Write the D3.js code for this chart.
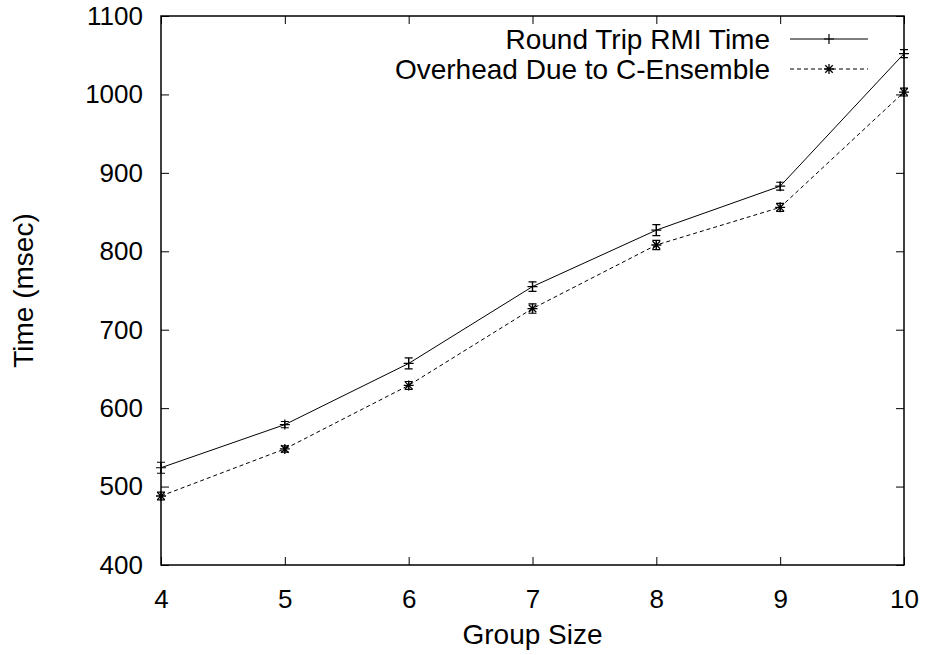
<!DOCTYPE html>
<html>
<head>
<meta charset="utf-8">
<script src="https://cdn.jsdelivr.net/npm/d3@7"></script>
<style>
  body { margin: 0; background: #fff; }
  text { font-family: "Liberation Sans", Arial, sans-serif; fill: #000; }
</style>
</head>
<body>
<svg width="926" height="655"></svg>
<script>
// Data
var groupSizes = [4, 5, 6, 7, 8, 9, 10];
var rmiTime = [524, 579, 657, 755, 827, 883, 1052];
var rmiErr = [7, 4, 7, 6, 7, 5, 5];
var overhead = [488, 548, 629, 727, 808, 856, 1003];
var overheadErr = [5, 4, 5, 6, 6, 5, 5];
var xTicks = [4, 5, 6, 7, 8, 9, 10];
var yTicks = [400, 500, 600, 700, 800, 900, 1000, 1100];
var seriesNames = ['Round Trip RMI Time', 'Overhead Due to C-Ensemble'];

var tickFont = '26px';
var labelFont = '28px';

var svg = d3.select('svg');
var padding = {t: 16, r: 22, b: 90, l: 161};
var chartWidth = 926 - padding.l - padding.r;
var chartHeight = 655 - padding.t - padding.b;

var chartG = svg.append('g')
    .attr('transform', 'translate(' + [padding.l, padding.t] + ')');

var xScale = d3.scaleLinear().domain([4, 10]).range([0, chartWidth]);
var yScale = d3.scaleLinear().domain([400, 1100]).range([chartHeight, 0]);

// Ticks on all four sides, pointing inward
function styleAxis(g) {
    g.select('.domain').remove();
    g.selectAll('line').attr('stroke', '#000').attr('stroke-width', 1);
    g.selectAll('text').style('font-size', tickFont);
}
chartG.append('g')
    .attr('transform', 'translate(0,' + chartHeight + ')')
    .call(d3.axisBottom(xScale).tickValues(xTicks).tickSizeInner(-8).tickSizeOuter(0)
        .tickPadding(25).tickFormat(d3.format('d')))
    .call(styleAxis);
chartG.append('g')
    .call(d3.axisTop(xScale).tickValues(xTicks).tickSizeInner(-8).tickSizeOuter(0).tickFormat(''))
    .call(styleAxis);
chartG.append('g')
    .call(d3.axisLeft(yScale).tickValues(yTicks).tickSizeInner(-8).tickSizeOuter(0)
        .tickPadding(18).tickFormat(d3.format('d')))
    .call(styleAxis);
chartG.append('g')
    .attr('transform', 'translate(' + chartWidth + ',0)')
    .call(d3.axisRight(yScale).tickValues(yTicks).tickSizeInner(-8).tickSizeOuter(0).tickFormat(''))
    .call(styleAxis);

chartG.append('rect')
    .attr('width', chartWidth).attr('height', chartHeight)
    .attr('fill', 'none').attr('stroke', '#000').attr('stroke-width', 1.5);

// Axis titles
svg.append('text')
    .attr('x', padding.l + chartWidth / 2).attr('y', 644)
    .attr('text-anchor', 'middle').style('font-size', labelFont)
    .text('Group Size');
svg.append('text')
    .attr('transform', 'translate(33,' + (padding.t + chartHeight / 2) + ') rotate(-90)')
    .attr('text-anchor', 'middle').style('font-size', labelFont)
    .text('Time (msec)');

// Markers
function plusMark(g, s) {
    g.append('path').attr('d', 'M' + (-s) + ',0H' + s + 'M0,' + (-s) + 'V' + s)
        .attr('stroke', '#000').attr('stroke-width', 1.2);
}
function starMark(g, s) {
    var d = s * 0.75;
    g.append('path')
        .attr('d', 'M' + (-s) + ',0H' + s + 'M0,' + (-s) + 'V' + s +
            'M' + (-d) + ',' + (-d) + 'L' + d + ',' + d + 'M' + (-d) + ',' + d + 'L' + d + ',' + (-d))
        .attr('stroke', '#000').attr('stroke-width', 1.3);
}

var series = [
    {name: seriesNames[0], values: rmiTime, errs: rmiErr, dash: null, mark: plusMark},
    {name: seriesNames[1], values: overhead, errs: overheadErr, dash: '4,3', mark: starMark}
];

var line = d3.line()
    .x(function(d) { return xScale(d.x); })
    .y(function(d) { return yScale(d.y); });

series.forEach(function(s) {
    var pts = groupSizes.map(function(x, i) { return {x: x, y: s.values[i], e: s.errs[i]}; });
    chartG.append('path')
        .datum(pts)
        .attr('d', line)
        .attr('fill', 'none')
        .attr('stroke', '#000')
        .attr('stroke-width', 1)
        .attr('stroke-dasharray', s.dash);

    var pg = chartG.selectAll(null)
        .data(pts)
        .enter()
        .append('g')
        .attr('transform', function(d) { return 'translate(' + [xScale(d.x), yScale(d.y)] + ')'; });
    // error bars
    pg.append('path')
        .attr('d', function(d) {
            var top = yScale(d.y + d.e) - yScale(d.y);
            var bot = yScale(d.y - d.e) - yScale(d.y);
            return 'M0,' + top + 'V' + bot + 'M-4,' + top + 'H4M-4,' + bot + 'H4';
        })
        .attr('stroke', '#000').attr('stroke-width', 1.2).attr('fill', 'none');
    pg.each(function() { s.mark(d3.select(this), 5); });
});

// Legend
var legend = svg.append('g');
series.forEach(function(s, i) {
    var y = 39 + i * 30;
    legend.append('text')
        .attr('x', 770).attr('y', y + 10)
        .attr('text-anchor', 'end').style('font-size', labelFont)
        .text(s.name);
    legend.append('line')
        .attr('x1', 790).attr('x2', 868).attr('y1', y).attr('y2', y)
        .attr('stroke', '#000').attr('stroke-width', 1)
        .attr('stroke-dasharray', s.dash);
    var mg = legend.append('g').attr('transform', 'translate(829,' + y + ')');
    s.mark(mg, 5);
});
</script>
</body>
</html>
